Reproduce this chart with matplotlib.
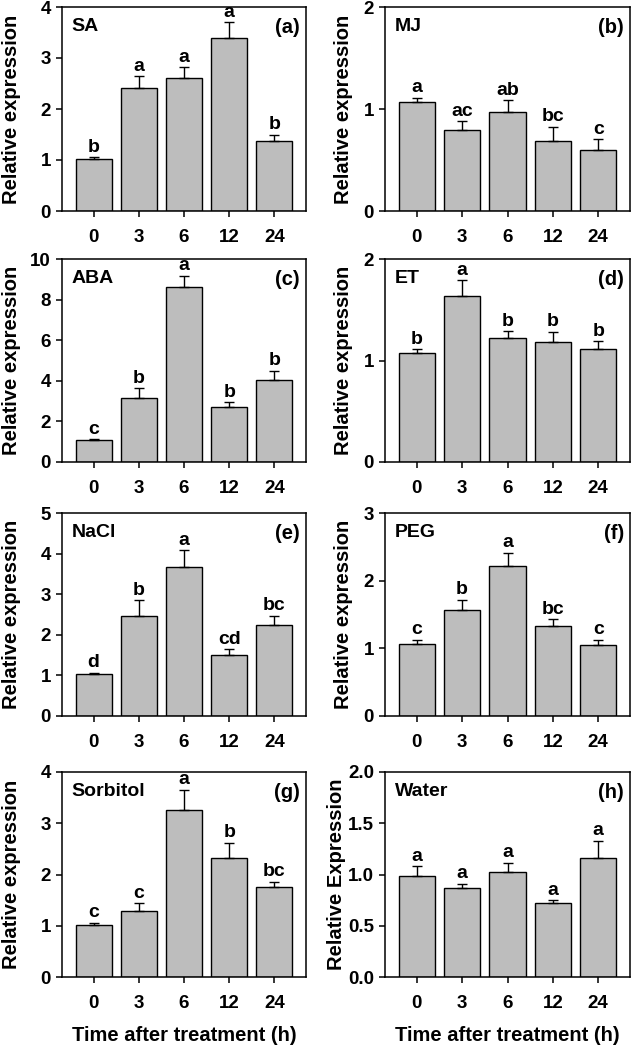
import matplotlib
matplotlib.use("Agg")
import matplotlib.pyplot as plt
import numpy as np

plt.rcParams['font.family'] = ['Liberation Sans', 'DejaVu Sans']
plt.rcParams['font.weight'] = 'bold'
plt.rcParams['axes.labelweight'] = 'bold'

times = ['0', '3', '6', '12', '24']

# values: mean, upper error, significance letters
sa_mean = [1.02, 2.42, 2.60, 3.39, 1.37]
sa_err = [0.03, 0.22, 0.22, 0.31, 0.13]
sa_sig = ['b', 'a', 'a', 'a', 'b']

mj_mean = [1.07, 0.79, 0.97, 0.69, 0.60]
mj_err = [0.04, 0.09, 0.115, 0.135, 0.105]
mj_sig = ['a', 'ac', 'ab', 'bc', 'c']

aba_mean = [1.07, 3.13, 8.61, 2.72, 4.06]
aba_err = [0.05, 0.50, 0.56, 0.22, 0.44]
aba_sig = ['c', 'b', 'a', 'b', 'b']

et_mean = [1.07, 1.64, 1.22, 1.185, 1.11]
et_err = [0.04, 0.15, 0.07, 0.10, 0.08]
et_sig = ['b', 'a', 'b', 'b', 'b']

nacl_mean = [1.03, 2.47, 3.68, 1.50, 2.23]
nacl_err = [0.03, 0.38, 0.40, 0.14, 0.24]
nacl_sig = ['d', 'b', 'a', 'cd', 'bc']

peg_mean = [1.06, 1.57, 2.21, 1.33, 1.05]
peg_err = [0.07, 0.15, 0.20, 0.10, 0.08]
peg_sig = ['c', 'b', 'a', 'bc', 'c']

sorb_mean = [1.02, 1.29, 3.25, 2.32, 1.76]
sorb_err = [0.04, 0.15, 0.40, 0.30, 0.10]
sorb_sig = ['c', 'c', 'a', 'b', 'bc']

water_mean = [0.99, 0.866, 1.02, 0.725, 1.165]
water_err = [0.09, 0.045, 0.095, 0.025, 0.165]
water_sig = ['a', 'a', 'a', 'a', 'a']

panels = [
    ('SA', '(a)', sa_mean, sa_err, sa_sig, 4, [0, 1, 2, 3, 4], 'Relative expression'),
    ('MJ', '(b)', mj_mean, mj_err, mj_sig, 2, [0, 1, 2], 'Relative expression'),
    ('ABA', '(c)', aba_mean, aba_err, aba_sig, 10, [0, 2, 4, 6, 8, 10], 'Relative expression'),
    ('ET', '(d)', et_mean, et_err, et_sig, 2, [0, 1, 2], 'Relative expression'),
    ('NaCl', '(e)', nacl_mean, nacl_err, nacl_sig, 5, [0, 1, 2, 3, 4, 5], 'Relative expression'),
    ('PEG', '(f)', peg_mean, peg_err, peg_sig, 3, [0, 1, 2, 3], 'Relative expression'),
    ('Sorbitol', '(g)', sorb_mean, sorb_err, sorb_sig, 4, [0, 1, 2, 3, 4], 'Relative expression'),
    ('Water', '(h)', water_mean, water_err, water_sig, 2.0, [0.0, 0.5, 1.0, 1.5, 2.0], 'Relative Expression'),
]

W, H = 633, 1047
fig = plt.figure(figsize=(W / 100, H / 100), dpi=100)

cols = [(62, 306), (385, 630)]
rows = [(7, 211), (259, 462), (513, 716), (772, 977)]
ylab_x = [-0.168, -0.131]

x = np.arange(len(times))
for i, (name, tag, mean, err, sig, ymax, yt, ylab) in enumerate(panels):
    r, c = divmod(i, 2)
    x0, x1 = cols[c]
    y0, y1 = rows[r]
    ax = fig.add_axes([x0 / W, 1 - y1 / H, (x1 - x0) / W, (y1 - y0) / H])
    ax.bar(x, mean, width=0.8, color='#bdbdbd', edgecolor='black', linewidth=1.0, zorder=2)
    ax.errorbar(x, mean, yerr=[np.zeros(len(mean)), err], fmt='none',
                ecolor='black', elinewidth=1.0, capsize=3.5, capthick=1.0, zorder=3)
    for xi, m, e, s in zip(x, mean, err, sig):
        ax.annotate(s, (xi, m + e), xytext=(0, 4), textcoords='offset points',
                    ha='center', va='baseline', fontsize=14, fontweight='bold')
    ax.set_xlim(-0.7, 4.7)
    ax.set_ylim(0, ymax)
    ax.set_xticks(x)
    ax.set_xticklabels(times)
    ax.set_yticks(yt)
    if name == 'Water':
        ax.set_yticklabels(['%.1f' % v for v in yt])
    for sp in ax.spines.values():
        sp.set_linewidth(1.1)
    ax.tick_params(axis='both', direction='out', length=4, width=1.1, labelsize=13.5)
    ax.tick_params(axis='x', pad=9)
    ax.tick_params(axis='y', pad=4)
    ax.set_ylabel(ylab, fontsize=14.5, fontweight='bold')
    lx = -0.159 if name == 'Water' else ylab_x[c]
    ax.yaxis.set_label_coords(lx, 0.5)
    ax.text(0.04, 0.945, name, transform=ax.transAxes, ha='left', va='top',
            fontsize=14, fontweight='bold')
    ax.text(0.975, 0.945, tag, transform=ax.transAxes, ha='right', va='top',
            fontsize=14.5, fontweight='bold')
    if r == 3:
        ax.set_xlabel('Time after treatment (h)', fontsize=14.5, fontweight='bold', labelpad=10)

fig.savefig('out.png', dpi=100)
